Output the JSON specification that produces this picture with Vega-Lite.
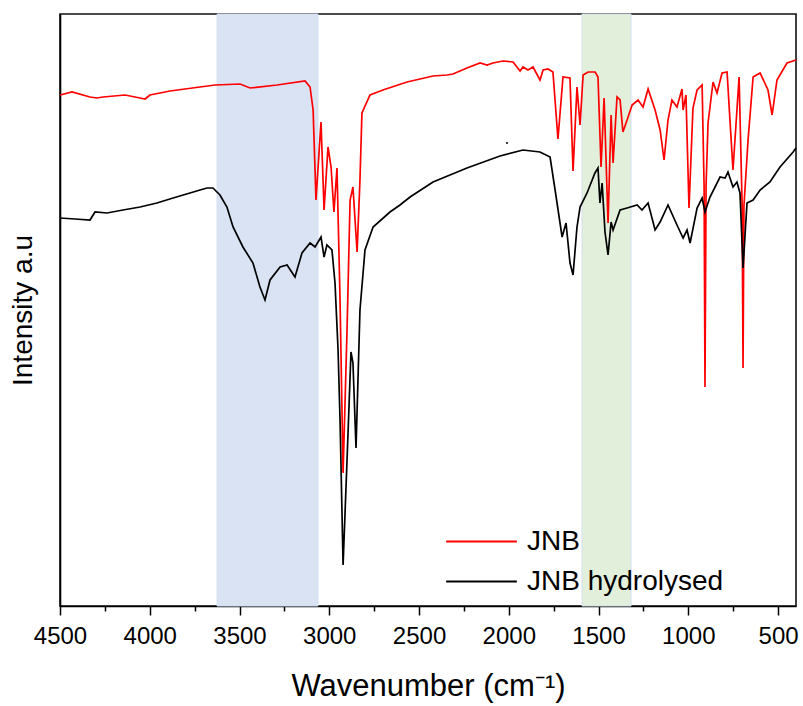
{
  "$schema": "https://vega.github.io/schema/vega-lite/v6.json",
  "width": 736,
  "height": 592,
  "autosize": {"type": "none"},
  "padding": {"left": 60, "top": 14, "right": 7, "bottom": 100},
  "config": {
    "view": {"stroke": "#111111", "strokeWidth": 1.6},
    "font": "Liberation Sans",
    "axis": {"grid": false, "labelFont": "Liberation Sans", "titleFont": "Liberation Sans", "labelColor": "#000000", "titleColor": "#000000", "titleFontWeight": "normal"}
  },
  "datasets": {
    "bands": [
      {"start": 3625, "end": 3063, "band": "blue"},
      {"start": 1592, "end": 1319, "band": "green"}
    ],
    "dot": [{"wn": 2010, "v": 463}],
    "spectra": [
      {"series": "JNB", "wn": 4500, "v": 511},
      {"series": "JNB", "wn": 4433, "v": 514},
      {"series": "JNB", "wn": 4333, "v": 509},
      {"series": "JNB", "wn": 4294, "v": 508},
      {"series": "JNB", "wn": 4260, "v": 509},
      {"series": "JNB", "wn": 4138, "v": 511},
      {"series": "JNB", "wn": 4054, "v": 508},
      {"series": "JNB", "wn": 4026, "v": 507},
      {"series": "JNB", "wn": 3999, "v": 511},
      {"series": "JNB", "wn": 3887, "v": 515},
      {"series": "JNB", "wn": 3720, "v": 519},
      {"series": "JNB", "wn": 3636, "v": 521},
      {"series": "JNB", "wn": 3497, "v": 522},
      {"series": "JNB", "wn": 3441, "v": 518},
      {"series": "JNB", "wn": 3291, "v": 521},
      {"series": "JNB", "wn": 3135, "v": 525},
      {"series": "JNB", "wn": 3107, "v": 519},
      {"series": "JNB", "wn": 3090, "v": 496},
      {"series": "JNB", "wn": 3074, "v": 406},
      {"series": "JNB", "wn": 3046, "v": 484},
      {"series": "JNB", "wn": 3029, "v": 396},
      {"series": "JNB", "wn": 3007, "v": 459},
      {"series": "JNB", "wn": 2990, "v": 439},
      {"series": "JNB", "wn": 2974, "v": 394},
      {"series": "JNB", "wn": 2957, "v": 438},
      {"series": "JNB", "wn": 2940, "v": 306},
      {"series": "JNB", "wn": 2923, "v": 133},
      {"series": "JNB", "wn": 2901, "v": 276},
      {"series": "JNB", "wn": 2884, "v": 406},
      {"series": "JNB", "wn": 2868, "v": 419},
      {"series": "JNB", "wn": 2845, "v": 354},
      {"series": "JNB", "wn": 2829, "v": 426},
      {"series": "JNB", "wn": 2818, "v": 493},
      {"series": "JNB", "wn": 2773, "v": 511},
      {"series": "JNB", "wn": 2701, "v": 516},
      {"series": "JNB", "wn": 2567, "v": 524},
      {"series": "JNB", "wn": 2422, "v": 530},
      {"series": "JNB", "wn": 2344, "v": 531},
      {"series": "JNB", "wn": 2311, "v": 532},
      {"series": "JNB", "wn": 2233, "v": 538},
      {"series": "JNB", "wn": 2160, "v": 543},
      {"series": "JNB", "wn": 2121, "v": 541},
      {"series": "JNB", "wn": 2088, "v": 543},
      {"series": "JNB", "wn": 2032, "v": 545},
      {"series": "JNB", "wn": 1976, "v": 544},
      {"series": "JNB", "wn": 1937, "v": 535},
      {"series": "JNB", "wn": 1921, "v": 539},
      {"series": "JNB", "wn": 1893, "v": 536},
      {"series": "JNB", "wn": 1865, "v": 539},
      {"series": "JNB", "wn": 1826, "v": 526},
      {"series": "JNB", "wn": 1809, "v": 536},
      {"series": "JNB", "wn": 1781, "v": 537},
      {"series": "JNB", "wn": 1754, "v": 534},
      {"series": "JNB", "wn": 1726, "v": 467},
      {"series": "JNB", "wn": 1698, "v": 529},
      {"series": "JNB", "wn": 1659, "v": 528},
      {"series": "JNB", "wn": 1642, "v": 435},
      {"series": "JNB", "wn": 1620, "v": 519},
      {"series": "JNB", "wn": 1603, "v": 481},
      {"series": "JNB", "wn": 1586, "v": 531},
      {"series": "JNB", "wn": 1558, "v": 534},
      {"series": "JNB", "wn": 1519, "v": 534},
      {"series": "JNB", "wn": 1503, "v": 529},
      {"series": "JNB", "wn": 1486, "v": 439},
      {"series": "JNB", "wn": 1469, "v": 508},
      {"series": "JNB", "wn": 1447, "v": 383},
      {"series": "JNB", "wn": 1430, "v": 491},
      {"series": "JNB", "wn": 1419, "v": 443},
      {"series": "JNB", "wn": 1397, "v": 509},
      {"series": "JNB", "wn": 1380, "v": 506},
      {"series": "JNB", "wn": 1364, "v": 474},
      {"series": "JNB", "wn": 1341, "v": 486},
      {"series": "JNB", "wn": 1313, "v": 501},
      {"series": "JNB", "wn": 1280, "v": 506},
      {"series": "JNB", "wn": 1252, "v": 499},
      {"series": "JNB", "wn": 1224, "v": 517},
      {"series": "JNB", "wn": 1185, "v": 496},
      {"series": "JNB", "wn": 1157, "v": 476},
      {"series": "JNB", "wn": 1135, "v": 446},
      {"series": "JNB", "wn": 1113, "v": 486},
      {"series": "JNB", "wn": 1091, "v": 506},
      {"series": "JNB", "wn": 1063, "v": 499},
      {"series": "JNB", "wn": 1035, "v": 517},
      {"series": "JNB", "wn": 1029, "v": 496},
      {"series": "JNB", "wn": 1013, "v": 511},
      {"series": "JNB", "wn": 996, "v": 398},
      {"series": "JNB", "wn": 974, "v": 498},
      {"series": "JNB", "wn": 951, "v": 516},
      {"series": "JNB", "wn": 923, "v": 521},
      {"series": "JNB", "wn": 912, "v": 420},
      {"series": "JNB", "wn": 907, "v": 219},
      {"series": "JNB", "wn": 901, "v": 420},
      {"series": "JNB", "wn": 890, "v": 483},
      {"series": "JNB", "wn": 862, "v": 524},
      {"series": "JNB", "wn": 840, "v": 513},
      {"series": "JNB", "wn": 812, "v": 533},
      {"series": "JNB", "wn": 784, "v": 534},
      {"series": "JNB", "wn": 751, "v": 436},
      {"series": "JNB", "wn": 717, "v": 529},
      {"series": "JNB", "wn": 700, "v": 400},
      {"series": "JNB", "wn": 695, "v": 238},
      {"series": "JNB", "wn": 690, "v": 400},
      {"series": "JNB", "wn": 667, "v": 466},
      {"series": "JNB", "wn": 639, "v": 529},
      {"series": "JNB", "wn": 600, "v": 533},
      {"series": "JNB", "wn": 556, "v": 516},
      {"series": "JNB", "wn": 533, "v": 491},
      {"series": "JNB", "wn": 506, "v": 526},
      {"series": "JNB", "wn": 450, "v": 543},
      {"series": "JNB", "wn": 400, "v": 546},
      {"series": "JNB hydrolysed", "wn": 4500, "v": 388},
      {"series": "JNB hydrolysed", "wn": 4416, "v": 387},
      {"series": "JNB hydrolysed", "wn": 4333, "v": 386},
      {"series": "JNB hydrolysed", "wn": 4305, "v": 394},
      {"series": "JNB hydrolysed", "wn": 4238, "v": 393},
      {"series": "JNB hydrolysed", "wn": 4149, "v": 396},
      {"series": "JNB hydrolysed", "wn": 4054, "v": 399},
      {"series": "JNB hydrolysed", "wn": 3960, "v": 403},
      {"series": "JNB hydrolysed", "wn": 3870, "v": 408},
      {"series": "JNB hydrolysed", "wn": 3776, "v": 413},
      {"series": "JNB hydrolysed", "wn": 3720, "v": 416},
      {"series": "JNB hydrolysed", "wn": 3681, "v": 418},
      {"series": "JNB hydrolysed", "wn": 3648, "v": 418},
      {"series": "JNB hydrolysed", "wn": 3609, "v": 411},
      {"series": "JNB hydrolysed", "wn": 3570, "v": 399},
      {"series": "JNB hydrolysed", "wn": 3536, "v": 379},
      {"series": "JNB hydrolysed", "wn": 3481, "v": 359},
      {"series": "JNB hydrolysed", "wn": 3425, "v": 343},
      {"series": "JNB hydrolysed", "wn": 3386, "v": 319},
      {"series": "JNB hydrolysed", "wn": 3358, "v": 306},
      {"series": "JNB hydrolysed", "wn": 3330, "v": 326},
      {"series": "JNB hydrolysed", "wn": 3274, "v": 339},
      {"series": "JNB hydrolysed", "wn": 3235, "v": 341},
      {"series": "JNB hydrolysed", "wn": 3191, "v": 329},
      {"series": "JNB hydrolysed", "wn": 3152, "v": 353},
      {"series": "JNB hydrolysed", "wn": 3107, "v": 363},
      {"series": "JNB hydrolysed", "wn": 3079, "v": 359},
      {"series": "JNB hydrolysed", "wn": 3046, "v": 369},
      {"series": "JNB hydrolysed", "wn": 3029, "v": 349},
      {"series": "JNB hydrolysed", "wn": 3013, "v": 361},
      {"series": "JNB hydrolysed", "wn": 2985, "v": 356},
      {"series": "JNB hydrolysed", "wn": 2968, "v": 323},
      {"series": "JNB hydrolysed", "wn": 2951, "v": 256},
      {"series": "JNB hydrolysed", "wn": 2940, "v": 186},
      {"series": "JNB hydrolysed", "wn": 2923, "v": 41},
      {"series": "JNB hydrolysed", "wn": 2901, "v": 146},
      {"series": "JNB hydrolysed", "wn": 2879, "v": 254},
      {"series": "JNB hydrolysed", "wn": 2868, "v": 243},
      {"series": "JNB hydrolysed", "wn": 2851, "v": 158},
      {"series": "JNB hydrolysed", "wn": 2829, "v": 296},
      {"series": "JNB hydrolysed", "wn": 2801, "v": 356},
      {"series": "JNB hydrolysed", "wn": 2756, "v": 379},
      {"series": "JNB hydrolysed", "wn": 2662, "v": 394},
      {"series": "JNB hydrolysed", "wn": 2606, "v": 401},
      {"series": "JNB hydrolysed", "wn": 2550, "v": 409},
      {"series": "JNB hydrolysed", "wn": 2422, "v": 424},
      {"series": "JNB hydrolysed", "wn": 2233, "v": 438},
      {"series": "JNB hydrolysed", "wn": 2049, "v": 450},
      {"series": "JNB hydrolysed", "wn": 1921, "v": 456},
      {"series": "JNB hydrolysed", "wn": 1826, "v": 454},
      {"series": "JNB hydrolysed", "wn": 1770, "v": 449},
      {"series": "JNB hydrolysed", "wn": 1742, "v": 416},
      {"series": "JNB hydrolysed", "wn": 1703, "v": 369},
      {"series": "JNB hydrolysed", "wn": 1681, "v": 383},
      {"series": "JNB hydrolysed", "wn": 1659, "v": 343},
      {"series": "JNB hydrolysed", "wn": 1642, "v": 331},
      {"series": "JNB hydrolysed", "wn": 1620, "v": 379},
      {"series": "JNB hydrolysed", "wn": 1603, "v": 399},
      {"series": "JNB hydrolysed", "wn": 1564, "v": 413},
      {"series": "JNB hydrolysed", "wn": 1520, "v": 433},
      {"series": "JNB hydrolysed", "wn": 1503, "v": 438},
      {"series": "JNB hydrolysed", "wn": 1492, "v": 403},
      {"series": "JNB hydrolysed", "wn": 1480, "v": 423},
      {"series": "JNB hydrolysed", "wn": 1464, "v": 374},
      {"series": "JNB hydrolysed", "wn": 1447, "v": 351},
      {"series": "JNB hydrolysed", "wn": 1430, "v": 384},
      {"series": "JNB hydrolysed", "wn": 1419, "v": 376},
      {"series": "JNB hydrolysed", "wn": 1380, "v": 396},
      {"series": "JNB hydrolysed", "wn": 1341, "v": 398},
      {"series": "JNB hydrolysed", "wn": 1285, "v": 401},
      {"series": "JNB hydrolysed", "wn": 1258, "v": 396},
      {"series": "JNB hydrolysed", "wn": 1224, "v": 403},
      {"series": "JNB hydrolysed", "wn": 1185, "v": 376},
      {"series": "JNB hydrolysed", "wn": 1157, "v": 384},
      {"series": "JNB hydrolysed", "wn": 1113, "v": 401},
      {"series": "JNB hydrolysed", "wn": 1063, "v": 381},
      {"series": "JNB hydrolysed", "wn": 1029, "v": 368},
      {"series": "JNB hydrolysed", "wn": 1007, "v": 376},
      {"series": "JNB hydrolysed", "wn": 990, "v": 363},
      {"series": "JNB hydrolysed", "wn": 951, "v": 398},
      {"series": "JNB hydrolysed", "wn": 923, "v": 408},
      {"series": "JNB hydrolysed", "wn": 907, "v": 394},
      {"series": "JNB hydrolysed", "wn": 879, "v": 409},
      {"series": "JNB hydrolysed", "wn": 823, "v": 429},
      {"series": "JNB hydrolysed", "wn": 795, "v": 428},
      {"series": "JNB hydrolysed", "wn": 779, "v": 434},
      {"series": "JNB hydrolysed", "wn": 751, "v": 419},
      {"series": "JNB hydrolysed", "wn": 729, "v": 424},
      {"series": "JNB hydrolysed", "wn": 712, "v": 413},
      {"series": "JNB hydrolysed", "wn": 695, "v": 338},
      {"series": "JNB hydrolysed", "wn": 673, "v": 403},
      {"series": "JNB hydrolysed", "wn": 639, "v": 406},
      {"series": "JNB hydrolysed", "wn": 600, "v": 416},
      {"series": "JNB hydrolysed", "wn": 545, "v": 424},
      {"series": "JNB hydrolysed", "wn": 489, "v": 439},
      {"series": "JNB hydrolysed", "wn": 416, "v": 454},
      {"series": "JNB hydrolysed", "wn": 400, "v": 458}
    ]
  },
  "resolve": {"axis": {"x": "independent"}},
  "layer": [
    {
      "data": {"name": "bands"},
      "mark": {"type": "rect", "stroke": "#d3ddf1", "strokeWidth": 1},
      "encoding": {
        "x": {"field": "start", "type": "quantitative", "scale": {"domain": [4500, 400], "nice": false, "zero": false},
          "axis": {"values": [4250, 3750, 3250, 2750, 2250, 1750, 1250, 750], "labels": false, "domain": false, "tickSize": 5, "tickWidth": 1.5, "tickColor": "#000000", "title": null, "orient": "bottom"}},
        "x2": {"field": "end"},
        "fill": {"field": "band", "type": "nominal", "scale": {"domain": ["blue", "green"], "range": ["#dae3f3", "#e2efda"]}, "legend": null}
      }
    },
    {
      "data": {"name": "spectra"},
      "mark": {"type": "line", "strokeWidth": 1.7},
      "encoding": {
        "x": {"field": "wn", "type": "quantitative", "scale": {"domain": [4500, 400], "nice": false, "zero": false},
          "axis": {"values": [4500, 4000, 3500, 3000, 2500, 2000, 1500, 1000, 500], "format": "d", "orient": "bottom", "domainColor": "#000000", "domainWidth": 1.6, "tickColor": "#000000", "tickWidth": 1.5, "tickSize": 9, "labelFontSize": 24, "labelPadding": 9, "labelFlush": false, "labelOverlap": false, "title": "Wavenumber (cm⁻¹)", "titleFontSize": 31, "titlePadding": 23}},
        "y": {"field": "v", "type": "quantitative", "scale": {"domain": [0, 592], "nice": false, "zero": false},
          "axis": {"ticks": false, "labels": false, "domain": true, "domainColor": "#000000", "domainWidth": 1.6, "title": "Intensity a.u", "titleFontSize": 28, "titlePadding": 23}},
        "color": {"field": "series", "type": "nominal", "scale": {"domain": ["JNB", "JNB hydrolysed"], "range": ["#ff0000", "#000000"]},
          "legend": {"title": null, "orient": "none", "legendX": 406, "legendY": 512, "symbolType": "M-2.5,0H2.5", "symbolSize": 800, "symbolStrokeWidth": 2, "labelFontSize": 28, "labelFont": "Liberation Sans", "labelColor": "#000000", "labelOffset": 30, "labelLimit": 400, "rowPadding": 10, "padding": 0}}
      }
    },
    {
      "data": {"name": "dot"},
      "mark": {"type": "circle", "size": 4, "color": "#000000", "opacity": 1},
      "encoding": {
        "x": {"field": "wn", "type": "quantitative", "axis": null},
        "y": {"field": "v", "type": "quantitative"}
      }
    }
  ]
}
